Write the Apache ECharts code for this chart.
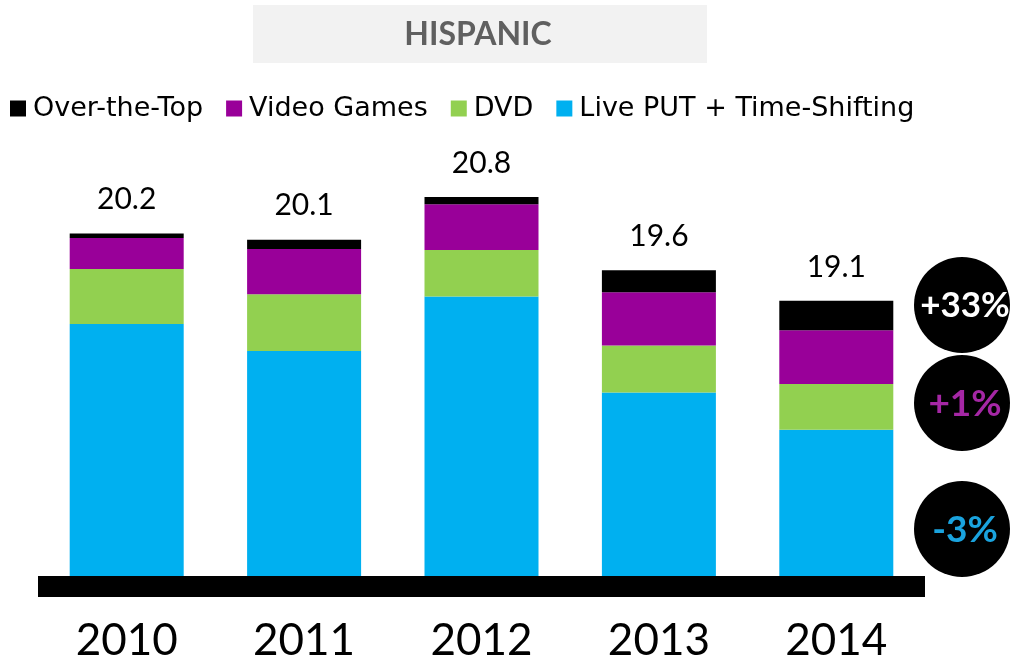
<!DOCTYPE html>
<html>
<head>
<meta charset="utf-8">
<script src="https://cdn.jsdelivr.net/npm/echarts@6/dist/echarts.min.js"></script>
<style>
  html, body { margin: 0; padding: 0; background: #ffffff; }
  #chart { width: 1019px; height: 663px; }
</style>
</head>
<body>
<div id="chart"></div>
<script>
// Weekly hours by source, Hispanic viewers
const years = ['2010', '2011', '2012', '2013', '2014'];
const totals = [20.2, 20.1, 20.8, 19.6, 19.1];
const overTheTop = [0.07, 0.15, 0.12, 0.36, 0.48];
const videoGames = [0.51, 0.74, 0.75, 0.87, 0.88];
const dvd = [0.90, 0.93, 0.76, 0.77, 0.75];
const livePut = [18.72, 18.28, 19.17, 17.60, 16.99];
const seriesNames = ['Over-the-Top', 'Video Games', 'DVD', 'Live PUT + Time-Shifting'];
const changeLabels = ['+33%', '+1%', '-3%'];
const titleText = 'HISPANIC';

const colors = {
  ott: '#000000',
  games: '#990099',
  dvd: '#92d050',
  live: '#00b0f0'
};

const chart = echarts.init(document.getElementById('chart'), null, { renderer: 'canvas' });

function bar(name, data, color, extra) {
  return Object.assign({
    name: name,
    type: 'bar',
    stack: 'total',
    data: data,
    barWidth: 114,
    itemStyle: { color: color },
    emphasis: { disabled: true }
  }, extra || {});
}

// Change badges on the right of the 2014 column
const badges = [
  { cy: 305, color: '#ffffff', size: 35 },
  { cy: 403, color: '#a527a5', size: 37 },
  { cy: 529, color: '#1aa3de', size: 37 }
];

const graphics = [
  {
    type: 'rect',
    shape: { x: 253, y: 5, width: 454, height: 58 },
    style: { fill: '#f2f2f2' },
    silent: true
  },
  {
    type: 'text',
    x: 478, y: 35,
    style: {
      text: titleText,
      fill: '#606060',
      font: 'bold 32px Lato',
      align: 'center',
      verticalAlign: 'middle'
    },
    silent: true
  }
];
badges.forEach(function (b, i) {
  graphics.push({
    type: 'circle',
    shape: { cx: 962, cy: b.cy, r: 48 },
    style: { fill: '#000000' },
    silent: true
  });
  graphics.push({
    type: 'text',
    x: 965, y: b.cy + 1,
    style: {
      text: changeLabels[i],
      fill: b.color,
      font: 'bold ' + b.size + 'px Lato',
      align: 'center',
      verticalAlign: 'middle'
    },
    silent: true,
    z: 10
  });
});

chart.setOption({
  animation: false,
  backgroundColor: '#ffffff',
  textStyle: { fontFamily: 'Lato' },
  legend: {
    data: seriesNames,
    left: 5,
    top: 90,
    icon: 'rect',
    itemWidth: 16,
    itemHeight: 16,
    itemGap: 23,
    selectedMode: false,
    textStyle: { fontFamily: 'DejaVu Sans', fontSize: 27, color: '#000000', padding: [0, 0, 0, 2] }
  },
  grid: { left: 38, right: 94, top: 148, bottom: 87, containLabel: false },
  xAxis: {
    type: 'category',
    data: years,
    offset: 10.5,
    axisLine: { lineStyle: { color: '#000000', width: 21, cap: 'butt' } },
    axisTick: { show: false },
    axisLabel: { fontFamily: 'Lato', fontSize: 44, color: '#000000', margin: 32 }
  },
  yAxis: {
    type: 'value',
    min: 14.6,
    max: 21.6,
    show: false,
    splitLine: { show: false }
  },
  series: [
    bar(seriesNames[3], livePut, colors.live),
    bar(seriesNames[2], dvd, colors.dvd),
    bar(seriesNames[1], videoGames, colors.games),
    bar(seriesNames[0], overTheTop, colors.ott, {
      label: {
        show: true,
        position: 'top',
        distance: 19,
        fontFamily: 'Lato',
        fontSize: 30,
        color: '#000000',
        formatter: function (p) { return totals[p.dataIndex].toFixed(1); }
      }
    })
  ],
  graphic: graphics
});
</script>
</body>
</html>
